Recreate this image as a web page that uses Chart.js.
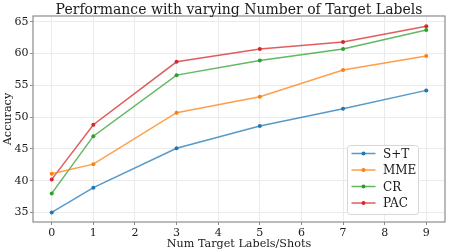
<!DOCTYPE html>
<html lang="en">
<head>
    <meta charset="UTF-8">
    <title>Performance with varying Number of Target Labels</title>
    <script src="https://cdn.jsdelivr.net/npm/chart.js"></script>
    <style>
        html, body { margin: 0; padding: 0; background: #fff; }
        #wrap { width: 449px; height: 252px; }
    </style>
</head>
<body>
    <div id="wrap"><canvas id="chart" width="449" height="252"></canvas></div>
    <script>
        const shots = [0, 1, 3, 5, 7, 9];
        const xTicks = [0, 1, 2, 3, 4, 5, 6, 7, 8, 9];
        const yTicks = [35, 40, 45, 50, 55, 60, 65];
        const seriesNames = ['S+T', 'MME', 'CR', 'PAC'];
        const stValues = [35.0, 38.9, 45.1, 48.6, 51.3, 54.2];
        const mmeValues = [41.1, 42.6, 50.7, 53.2, 57.4, 59.6];
        const crValues = [38.0, 47.0, 56.6, 58.9, 60.7, 63.7];
        const pacValues = [40.2, 48.8, 58.7, 60.7, 61.8, 64.3];
        const colors = ['#1f77b4', '#ff7f0e', '#2ca02c', '#d62728'];

        const FONT = '"DejaVu Serif", serif';
        const TEXT = '#1a1a1a';
        const allValues = [stValues, mmeValues, crValues, pacValues];

        function alpha(hex, a) {
            const n = parseInt(hex.slice(1), 16);
            return `rgba(${n >> 16}, ${(n >> 8) & 255}, ${n & 255}, ${a})`;
        }

        const datasets = seriesNames.map((name, i) => ({
            label: name,
            data: shots.map((x, j) => ({ x: x, y: allValues[i][j] })),
            borderColor: alpha(colors[i], 0.75),
            backgroundColor: colors[i],
            pointBackgroundColor: colors[i],
            pointBorderColor: colors[i],
            borderWidth: 1.5,
            pointRadius: 2,
            pointBorderWidth: 0,
            tension: 0
        }));

        // title, frame and legend drawn the matplotlib way
        const decor = {
            id: 'decor',
            afterDraw(chart) {
                const c = chart.ctx;
                const a = chart.chartArea;
                c.save();
                c.strokeStyle = '#8c8c8c';
                c.lineWidth = 1.2;
                c.strokeRect(a.left, a.top, a.right - a.left, a.bottom - a.top);

                c.fillStyle = TEXT;
                c.font = '14px ' + FONT;
                c.textAlign = 'center';
                c.textBaseline = 'alphabetic';
                c.fillText('Performance with varying Number of Target Labels', (a.left + a.right) / 2, 13.5);

                // legend
                const bx = 347, by = 145, bw = 71, bh = 69;
                c.fillStyle = 'rgba(255,255,255,0.85)';
                c.strokeStyle = '#d6d6d6';
                c.lineWidth = 1;
                c.beginPath();
                c.roundRect(bx + 0.5, by + 0.5, bw, bh, 3);
                c.fill();
                c.stroke();
                chart.data.datasets.forEach((ds, i) => {
                    const y = by + 8.5 + i * 16.5;
                    c.strokeStyle = ds.borderColor;
                    c.lineWidth = 1.5;
                    c.beginPath();
                    c.moveTo(351.5, y);
                    c.lineTo(375.5, y);
                    c.stroke();
                    c.fillStyle = ds.pointBackgroundColor;
                    c.beginPath();
                    c.arc(363.5, y, 2, 0, Math.PI * 2);
                    c.fill();
                    c.fillStyle = TEXT;
                    c.font = '12px ' + FONT;
                    c.textAlign = 'left';
                    c.textBaseline = 'middle';
                    c.fillText(ds.label, 383, y + 1);
                });
                c.restore();
            }
        };

        new Chart(document.getElementById('chart'), {
            type: 'line',
            data: { datasets: datasets },
            plugins: [decor],
            options: {
                responsive: false,
                animation: false,
                layout: { padding: { top: 16, right: 4, left: 0, bottom: 0 } },
                plugins: {
                    legend: { display: false },
                    title: { display: false },
                    tooltip: { enabled: false }
                },
                scales: {
                    x: {
                        type: 'linear',
                        min: -0.45,
                        max: 9.45,
                        afterBuildTicks: s => { s.ticks = xTicks.map(v => ({ value: v })); },
                        afterFit: s => { s.height = 30; },
                        grid: { color: '#ebebeb', lineWidth: 1, drawTicks: true, tickLength: 3, tickColor: '#8c8c8c' },
                        border: { display: false },
                        ticks: { color: TEXT, font: { family: FONT, size: 11 }, padding: 2, maxRotation: 0 },
                        title: {
                            display: true,
                            text: 'Num Target Labels/Shots',
                            color: TEXT,
                            font: { family: FONT, size: 11.2 },
                            padding: { top: 0, bottom: 1 }
                        }
                    },
                    y: {
                        min: 33.5,
                        max: 65.9,
                        afterBuildTicks: s => { s.ticks = yTicks.map(v => ({ value: v })); },
                        afterFit: s => { s.width = 33; },
                        grid: { color: '#ebebeb', lineWidth: 1, drawTicks: true, tickLength: 3, tickColor: '#8c8c8c' },
                        border: { display: false },
                        ticks: { color: TEXT, font: { family: FONT, size: 11 }, padding: 1.5 },
                        title: {
                            display: true,
                            text: 'Accuracy',
                            color: TEXT,
                            font: { family: FONT, size: 11.2 },
                            padding: { top: 1, bottom: 0 }
                        }
                    }
                }
            }
        });
    </script>
</body>
</html>
